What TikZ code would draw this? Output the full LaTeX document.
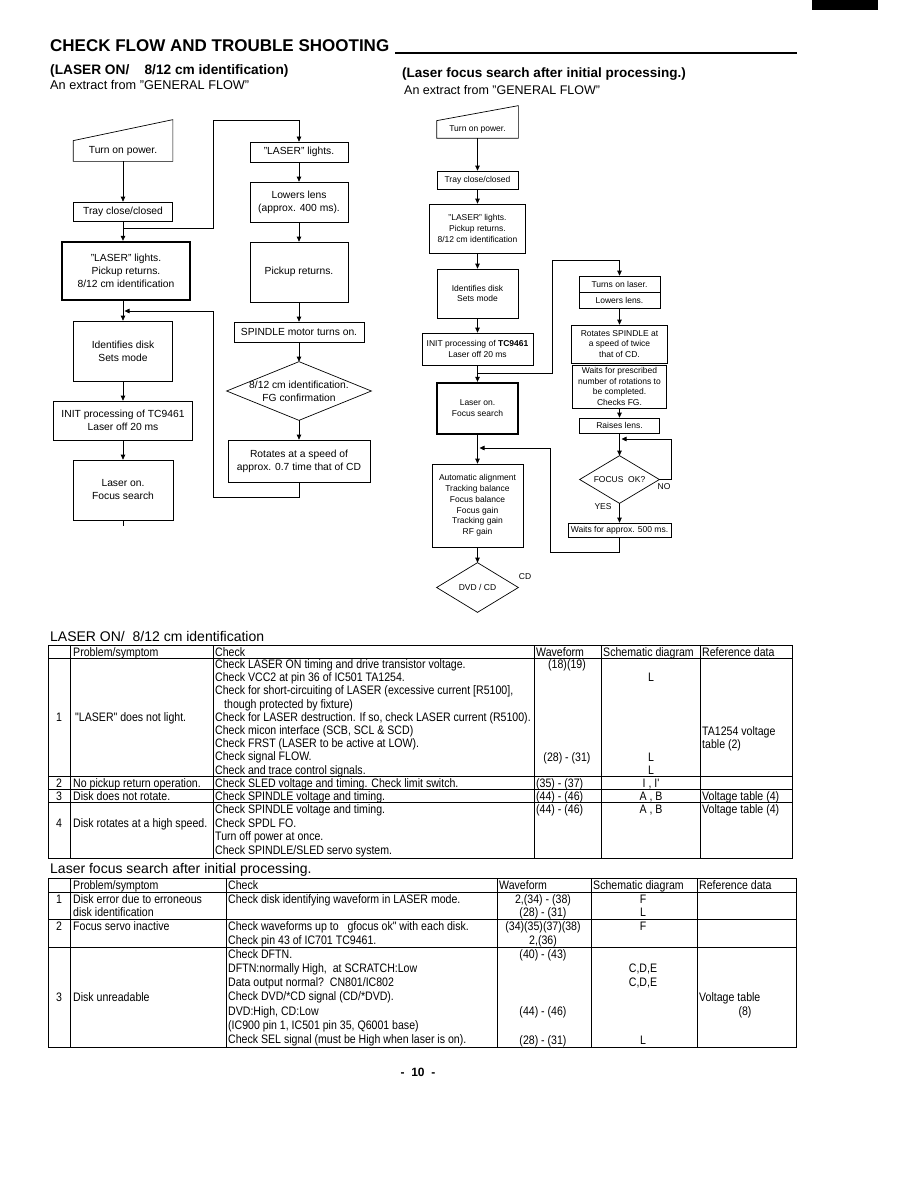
\documentclass[tikz,border=0pt]{standalone}
\usepackage{fontspec}
\setmainfont{Liberation Sans}
\newfontfamily\narrowsans{Liberation Sans}[FakeStretch=0.86]
\usetikzlibrary{arrows.meta,calc,positioning}

\newcommand\bigflow{\fontsize{10.3}{13}\selectfont}
\newcommand\smallflow{\fontsize{8.5}{10.8}\selectfont}
\newcommand\tabfont{\narrowsans\fontsize{12.3}{13}\selectfont}

\begin{document}
\begin{tikzpicture}[x=1pt, y=-1pt,
  flowbox/.style={draw, line width=0.7pt, align=center, inner sep=1pt, font=\bigflow},
  sflowbox/.style={flowbox, font=\smallflow},
  thickbox/.style={line width=2.4pt},
  arr/.style={line width=0.7pt, -{Triangle[length=5pt, width=4.5pt]}},
  tabline/.style={line width=0.7pt},
  tcell/.style={anchor=base west, inner sep=0pt, font=\tabfont},
  ccell/.style={anchor=base, inner sep=0pt, font=\tabfont}]
  \useasboundingbox (0,0) rectangle (918,1188);

  % === Page header ===
  \fill[black] (812,0) rectangle (878,10);
  \node[anchor=base west, inner sep=0pt, font=\bfseries\fontsize{17}{20}\selectfont] (title) at (50,52) {CHECK FLOW AND TROUBLE SHOOTING};
  \coordinate (titleend) at (797,53);
  \draw[line width=1.3pt] ($(title.base east)+(6,1)$) -- (titleend);
  \node[anchor=base west, inner sep=0pt, font=\bfseries\fontsize{13.7}{16}\selectfont] (sub1) at (50,75) {(LASER ON/\ \ \ \ 8/12 cm identification)};
  \node[anchor=base west, inner sep=0pt, font=\fontsize{12.7}{15}\selectfont] (ext1) at (50,90) {An extract from "GENERAL FLOW"};
  \node[anchor=base west, inner sep=0pt, font=\bfseries\fontsize{13.5}{16}\selectfont] (sub2) at (402,78) {(Laser focus search after initial processing.)};
  \node[anchor=base west, inner sep=0pt, font=\fontsize{12.5}{15}\selectfont] (ext2) at (404,95) {An extract from "GENERAL FLOW"};

  % === Left flow: LASER ON / 8/12 cm identification ===
  \node[flowbox, draw=none, minimum width=99, minimum height=20] (pow1) at (123,151) {Turn on power.};
  \draw[line width=0.7pt] (pow1.south west) -- (pow1.south east) -- ($(pow1.north east)+(0,-21)$) -- (pow1.north west) -- cycle;
  \node[flowbox, minimum width=99, minimum height=19] (tray1) at (123,211.5) {Tray close/closed};
  \node[flowbox, thickbox, minimum width=128, minimum height=58] (las1) at (126,271) {"LASER" lights.\\ Pickup returns.\\ 8/12 cm identification};
  \node[flowbox, minimum width=99, minimum height=60] (ident1) at (123,351) {Identifies disk\\ Sets mode};
  \node[flowbox, minimum width=139, minimum height=39] (init1) at (123,420.5) {INIT processing of TC9461\\ Laser off 20 ms};
  \node[flowbox, minimum width=100, minimum height=60] (lon1) at (123,490) {Laser on.\\ Focus search};
  % right column
  \node[flowbox, minimum width=98, minimum height=20] (lasR) at (299,152) {"LASER" lights.};
  \node[flowbox, minimum width=98, minimum height=40] (lens1) at (299,202) {Lowers lens\\ (approx. 400 ms).};
  \node[flowbox, minimum width=98, minimum height=60] (pick1) at (299,272) {Pickup returns.};
  \node[flowbox, minimum width=130, minimum height=20] (spin1) at (299,332) {SPINDLE motor turns on.};
  \node[flowbox, draw=none, minimum width=144, minimum height=58] (dia1) at (299,391) {8/12 cm identification.\\ FG confirmation};
  \draw[line width=0.7pt] (dia1.north) -- (dia1.east) -- (dia1.south) -- (dia1.west) -- cycle;
  \node[flowbox, minimum width=142, minimum height=42] (rot1) at (299,461) {Rotates at a speed of\\ approx. 0.7 time that of CD};
  % connectors
  \draw[arr] (pow1) -- (tray1);
  \draw[arr] (tray1) -- (tray1 |- las1.north);
  \draw[arr] (ident1 |- las1.south) -- (ident1);
  \draw[arr] (ident1) -- (init1);
  \draw[arr] (init1) -- (lon1);
  \draw[line width=0.7pt] (lon1.south) -- ++(0,6);
  \coordinate (j1) at ($(tray1.south)+(0,7)$);
  \coordinate (k1) at (213,120);
  \draw[arr] (j1) -| (k1) -| (lasR.north);
  \draw[arr] (lasR) -- (lens1);
  \draw[arr] (lens1) -- (pick1);
  \draw[arr] (pick1) -- (spin1);
  \draw[arr] (spin1) -- (dia1.north);
  \draw[arr] (dia1.south) -- (rot1);
  \coordinate (k2) at (213,497);
  \coordinate (j2) at (124.5,311);
  \draw[arr] (rot1.south) |- (k2) |- (j2);

  % === Right flow: laser focus search ===
  \node[sflowbox, draw=none, minimum width=81, minimum height=17] (pow2) at (477.5,129.5) {Turn on power.};
  \draw[line width=0.7pt] (pow2.south west) -- (pow2.south east) -- ($(pow2.north east)+(0,-15)$) -- (pow2.north west) -- cycle;
  \node[sflowbox, minimum width=81, minimum height=18] (tray2) at (477.5,180) {Tray close/closed};
  \node[sflowbox, minimum width=96, minimum height=49] (las2) at (477.5,228.5) {"LASER" lights.\\ Pickup returns.\\ 8/12 cm identification};
  \node[sflowbox, minimum width=81, minimum height=49] (ident2) at (477.5,293.5) {Identifies disk\\ Sets mode};
  \node[sflowbox, minimum width=111, minimum height=32] (init2) at (477.5,349) {INIT processing of \textbf{TC9461}\\ Laser off 20 ms};
  \node[sflowbox, thickbox, minimum width=81, minimum height=51] (lon2) at (477.5,408.5) {Laser on.\\ Focus search};
  \node[sflowbox, minimum width=91, minimum height=83] (auto2) at (477.5,505.5) {Automatic alignment\\ Tracking balance\\ Focus balance\\ Focus gain\\ Tracking gain\\ RF gain};
  \node[sflowbox, draw=none, minimum width=81, minimum height=49] (dia3) at (477.5,587.5) {DVD / CD};
  \draw[line width=0.7pt] (dia3.north) -- (dia3.east) -- (dia3.south) -- (dia3.west) -- cycle;
  \node[font=\smallflow, inner sep=0pt] (cd) at (525,577) {CD};
  % right column
  \node[sflowbox, minimum width=81, minimum height=16] (tol) at (619.5,284) {Turns on laser.};
  \node[sflowbox, minimum width=81, minimum height=16] (low2) at (619.5,300) {Lowers lens.};
  \node[sflowbox, minimum width=96, minimum height=38] (rs) at (619.5,344) {Rotates SPINDLE at\\ a speed of twice\\ that of CD.};
  \node[sflowbox, minimum width=94, minimum height=43] (wp) at (619.5,386.5) {Waits for prescribed\\ number of rotations to\\ be completed.\\ Checks FG.};
  \node[sflowbox, minimum width=80, minimum height=15] (rl) at (619.5,425.5) {Raises lens.};
  \node[sflowbox, draw=none, minimum width=79, minimum height=47] (dia2) at (619.5,479.5) {FOCUS\ \ OK?};
  \draw[line width=0.7pt] (dia2.north) -- (dia2.east) -- (dia2.south) -- (dia2.west) -- cycle;
  \node[sflowbox, minimum width=103, minimum height=14] (w500) at (619.5,530) {Waits for approx. 500 ms.};
  \node[font=\smallflow, inner sep=0pt] (no) at (664,487) {NO};
  \node[font=\smallflow, inner sep=0pt] (yes) at (603,507) {YES};
  % connectors
  \draw[arr] (pow2) -- (tray2);
  \draw[arr] (tray2) -- (las2);
  \draw[arr] (las2) -- (ident2);
  \draw[arr] (ident2) -- (init2);
  \draw[arr] (init2) -- (lon2);
  \draw[arr] (lon2) -- (auto2);
  \draw[arr] (auto2) -- (dia3.north);
  \coordinate (j3) at ($(init2.south)+(0,8)$);
  \coordinate (k3) at (552,260);
  \draw[arr] (j3) -| (k3) -| (tol.north);
  \draw[arr] (low2) -- (rs);
  \draw[arr] (wp) -- (rl);
  \draw[arr] (rl) -- (dia2.north);
  \draw[arr] (dia2.south) -- (w500);
  \coordinate (k4) at (671,439);
  \coordinate (j4) at (621.5,439);
  \draw[arr] (dia2.east) -| (k4) -- (j4);
  \coordinate (k5) at (550,552);
  \coordinate (j5) at (479.5,448);
  \draw[arr] (w500.south) |- (k5) |- (j5);

  % === Table: LASER ON / 8/12 cm identification ===
  \node[anchor=base west, inner sep=0pt, font=\fontsize{14}{16}\selectfont] (tabA) at (50,641) {LASER ON/\ \ 8/12 cm identification};
  \draw[tabline] (48,645) rectangle (792,858);
  \foreach \x in {70,213,534,601,700} { \draw[tabline] (\x,645) -- (\x,858); }
  \foreach \y in {658,776,789,802} { \draw[tabline] (48,\y) -- (792,\y); }
  \foreach \x/\h in {73/{Problem/symptom}, 215/Check, 536/Waveform, 603/{Schematic diagram}, 702/{Reference data}} {
    \node[tcell] (ha\x) at (\x,656) {\h};
  }
  % row 1
  \foreach \txt [count=\i from 0] in {
    {Check LASER ON timing and drive transistor voltage.},
    {Check VCC2 at pin 36 of IC501 TA1254.},
    {Check for short-circuiting of LASER (excessive current [R5100],},
    {\hspace{9pt}though protected by fixture)},
    {Check for LASER destruction. If so, check LASER current (R5100).},
    {Check micon interface (SCB, SCL \& SCD)},
    {Check FRST (LASER to be active at LOW).},
    {Check signal FLOW.},
    {Check and trace control signals.}} {
    \node[tcell] (ca\i) at (215,668.5+13.2*\i) {\txt};
  }
  \node[ccell] (na1) at (59,721) {1};
  \node[tcell] (pa1) at (75,721) {"LASER" does not light.};
  \node[ccell] (wa1) at (567,668.5) {(18)(19)};
  \node[ccell] (wa2) at (567,761) {(28) - (31)};
  \node[ccell] (sa1) at (651,681.5) {L};
  \node[ccell] (sa2) at (651,761) {L};
  \node[ccell] (sa3) at (651,774) {L};
  \node[tcell] (ra1) at (702,735) {TA1254 voltage};
  \node[tcell] (ra2) at (702,748) {table (2)};
  % row 2
  \node[ccell] (na2) at (59,787) {2};
  \node[tcell] (pa2) at (73,787) {No pickup return operation.};
  \node[tcell] (cb1) at (215,787) {Check SLED voltage and timing. Check limit switch.};
  \node[tcell] (wb1) at (536,787) {(35) - (37)};
  \node[ccell] (sb1) at (651,787) {I , I'};
  % row 3
  \node[ccell] (na3) at (59,800) {3};
  \node[tcell] (pa3) at (73,800) {Disk does not rotate.};
  \node[tcell] (cc1) at (215,800) {Check SPINDLE voltage and timing.};
  \node[tcell] (wc1) at (536,800) {(44) - (46)};
  \node[ccell] (sc1) at (651,800) {A , B};
  \node[tcell] (rc1) at (702,800) {Voltage table (4)};
  % row 4
  \foreach \txt [count=\i from 0] in {
    {Check SPINDLE voltage and timing.},
    {Check SPDL FO.},
    {Turn off power at once.},
    {Check SPINDLE/SLED servo system.}} {
    \node[tcell] (cd\i) at (215,813.5+13.5*\i) {\txt};
  }
  \node[ccell] (na4) at (59,827) {4};
  \node[tcell] (pa4) at (73,827) {Disk rotates at a high speed.};
  \node[tcell] (wd1) at (536,813.5) {(44) - (46)};
  \node[ccell] (sd1) at (651,813.5) {A , B};
  \node[tcell] (rd1) at (702,813.5) {Voltage table (4)};

  % === Table: Laser focus search after initial processing ===
  \node[anchor=base west, inner sep=0pt, font=\fontsize{14}{16}\selectfont] (tabB) at (50,873) {Laser focus search after initial processing.};
  \draw[tabline] (48,878) rectangle (796,1047);
  \foreach \x in {70,226,497,591,697} { \draw[tabline] (\x,878) -- (\x,1047); }
  \foreach \y in {892,919,947} { \draw[tabline] (48,\y) -- (796,\y); }
  \foreach \x/\h in {73/{Problem/symptom}, 228/Check, 499/Waveform, 593/{Schematic diagram}, 699/{Reference data}} {
    \node[tcell] (hb\x) at (\x,889) {\h};
  }
  % row 1
  \node[ccell] (nb1) at (59,903) {1};
  \node[tcell] (pb1) at (73,903) {Disk error due to erroneous};
  \node[tcell] (pb2) at (73,916) {disk identification};
  \node[tcell] (ce1) at (228,903) {Check disk identifying waveform in LASER mode.};
  \node[ccell] (we1) at (543,903) {2,(34) - (38)};
  \node[ccell] (we2) at (543,916) {(28) - (31)};
  \node[ccell] (se1) at (643,903) {F};
  \node[ccell] (se2) at (643,916) {L};
  % row 2
  \node[ccell] (nb2) at (59,930) {2};
  \node[tcell] (pb3) at (73,930) {Focus servo inactive};
  \node[tcell] (cf1) at (228,930) {Check waveforms up to\ \ \ gfocus ok" with each disk.};
  \node[tcell] (cf2) at (228,944) {Check pin 43 of IC701 TC9461.};
  \node[ccell] (wf1) at (543,930) {(34)(35)(37)(38)};
  \node[ccell] (wf2) at (543,944) {2,(36)};
  \node[ccell] (sf1) at (643,930) {F};
  % row 3
  \foreach \txt [count=\i from 0] in {
    {Check DFTN.},
    {DFTN:normally High,\ \ at SCRATCH:Low},
    {Data output normal?\ \ CN801/IC802},
    {Check DVD/*CD signal (CD/*DVD).},
    {DVD:High, CD:Low},
    {(IC900 pin 1, IC501 pin 35, Q6001 base)},
    {Check SEL signal (must be High when laser is on).}} {
    \node[tcell] (cg\i) at (228,958+14.3*\i) {\txt};
  }
  \node[ccell] (nb3) at (59,1001) {3};
  \node[tcell] (pb4) at (73,1001) {Disk unreadable};
  \node[ccell] (wg1) at (543,958) {(40) - (43)};
  \node[ccell] (wg2) at (543,1015) {(44) - (46)};
  \node[ccell] (wg3) at (543,1044) {(28) - (31)};
  \node[ccell] (sg1) at (643,972) {C,D,E};
  \node[ccell] (sg2) at (643,986) {C,D,E};
  \node[ccell] (sg3) at (643,1044) {L};
  \node[tcell] (rg1) at (699,1001) {Voltage table};
  \node[ccell] (rg2) at (745,1015) {(8)};

  % === Page number ===
  \node[font=\bfseries\fontsize{12}{14}\selectfont, inner sep=0pt] (pnum) at (418,1072) {-\ \ 10\ \ -};
\end{tikzpicture}
\end{document}
